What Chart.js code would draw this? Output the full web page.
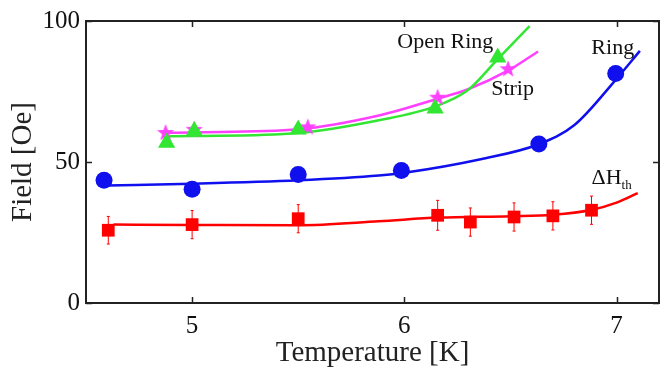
<!DOCTYPE html>
<html><head><meta charset="utf-8">
<script src="https://cdn.jsdelivr.net/npm/chart.js@4"></script>
<style>html,body{margin:0;padding:0;background:#fff}#wrap{width:669px;height:373px}</style>
</head><body><div id="wrap"><canvas id="c" width="669" height="373"></canvas></div>
<script>
// ---- data ----
const xTicks = [5, 6, 7];
const yTicks = [0, 50, 100];

// ΔH_th (red squares with error bars)
const dhT   = [4.605, 5.0, 5.5, 6.157, 6.311, 6.517, 6.70, 6.882];
const dhF   = [25.8, 27.8, 29.9, 31.1, 28.7, 30.5, 30.9, 32.9];
const dhErr = [4.9, 5.0, 5.0, 5.3, 5.0, 5.0, 5.0, 5.0];
const dhFitT = [4.63, 5.0, 5.5, 5.88, 6.16, 6.5, 6.7, 6.88, 7.0, 7.1];
const dhFitF = [27.8, 27.7, 27.6, 29.0, 30.3, 30.8, 31.3, 33.0, 35.6, 39.0];

// Ring (blue circles)
const ringT = [4.585, 5.0, 5.5, 5.986, 6.634, 6.996];
const ringF = [43.5, 40.3, 45.6, 47.0, 56.4, 81.4];
const ringFitT = [4.6, 5.0, 5.5, 5.88, 6.0, 6.36, 6.63, 6.8, 7.0, 7.11];
const ringFitF = [41.7, 42.3, 43.5, 45.2, 46.2, 51.0, 56.2, 63.0, 79.5, 89.4];

// Open Ring (green triangles)
const openT = [4.88, 5.01, 5.5, 6.145, 6.44];
const openF = [56.8, 61.0, 61.5, 69.0, 87.1];
const openFitT = [4.87, 5.0, 5.5, 5.88, 6.15, 6.3, 6.44, 6.59];
const openFitF = [59.1, 59.2, 60.3, 64.8, 69.8, 75.5, 86.5, 98.2];

// Strip (magenta stars)
const stripT = [4.875, 5.01, 5.545, 6.157, 6.489];
const stripF = [60.3, 61.4, 62.3, 72.8, 82.9];
const stripFitT = [4.87, 5.0, 5.5, 5.88, 6.16, 6.3, 6.49, 6.63];
const stripFitF = [60.3, 60.5, 61.6, 66.5, 72.5, 75.8, 82.5, 89.2];

// text labels: [text, x value, baseline y value]
const labelText = ['Open Ring', 'Strip', 'Ring'];
const labelX    = [6.193, 6.51, 6.982];
const labelY    = [90.6, 73.9, 88.2];

// ---- styles ----
const RED = '#ff0000', BLUE = '#1010ee', GREEN = '#33e633', MAG = '#ff40ff';
const SERIF = '"Liberation Serif", "Times New Roman", serif';

const pts = (xs, ys) => xs.map((x, i) => ({x: x, y: ys[i]}));

function starCanvas(r, color) {
  const s = Math.ceil(r * 2 + 2);
  const c = document.createElement('canvas');
  c.width = s; c.height = s;
  const g = c.getContext('2d');
  g.fillStyle = color;
  g.beginPath();
  for (let i = 0; i < 10; i++) {
    const rad = i % 2 ? r * 0.42 : r;
    const a = -Math.PI / 2 + i * Math.PI / 5;
    g.lineTo(s / 2 + rad * Math.cos(a), s / 2 + rad * Math.sin(a));
  }
  g.closePath();
  g.fill();
  return c;
}

const fitDs = (xs, ys, color) => ({
  type: 'scatter', data: pts(xs, ys), showLine: true, borderColor: color,
  borderWidth: 2.5, pointRadius: 0, cubicInterpolationMode: 'monotone', order: 10, fill: false
});
const markDs = (xs, ys, color, style, r) => ({
  type: 'scatter', data: pts(xs, ys), showLine: false, backgroundColor: color,
  borderColor: color, borderWidth: 0, pointStyle: style, pointRadius: r, order: 1
});

const framePlugin = {
  id: 'frame',
  afterDatasetsDraw(chart) {
    const {ctx, chartArea: a, scales: {x, y}} = chart;
    ctx.save();
    // error bars
    ctx.strokeStyle = RED; ctx.lineWidth = 1;
    dhT.forEach((t, i) => {
      const px = x.getPixelForValue(t);
      const y1 = y.getPixelForValue(dhF[i] + dhErr[i]);
      const y2 = y.getPixelForValue(dhF[i] - dhErr[i]);
      ctx.beginPath();
      ctx.moveTo(px, y1); ctx.lineTo(px, y2);
      ctx.moveTo(px - 1.5, y1); ctx.lineTo(px + 1.5, y1);
      ctx.moveTo(px - 1.5, y2); ctx.lineTo(px + 1.5, y2);
      ctx.stroke();
    });
    // box and inward ticks
    ctx.strokeStyle = '#222'; ctx.lineWidth = 2;
    ctx.strokeRect(a.left, a.top, a.right - a.left, a.bottom - a.top);
    ctx.beginPath();
    const L = 6;
    xTicks.forEach(v => {
      const px = Math.round(x.getPixelForValue(v)) + 0.5;
      ctx.moveTo(px, a.bottom); ctx.lineTo(px, a.bottom - L);
      ctx.moveTo(px, a.top); ctx.lineTo(px, a.top + L);
    });
    yTicks.forEach(v => {
      const py = Math.round(y.getPixelForValue(v)) + 0.5;
      ctx.moveTo(a.left, py); ctx.lineTo(a.left + L, py);
      ctx.moveTo(a.right, py); ctx.lineTo(a.right - L, py);
    });
    ctx.lineWidth = 1.5;
    ctx.stroke();
    // text labels
    ctx.fillStyle = '#111';
    ctx.font = '22px ' + SERIF;
    ctx.textAlign = 'center'; ctx.textBaseline = 'alphabetic';
    labelText.forEach((t, i) => {
      ctx.fillText(t, x.getPixelForValue(labelX[i]), y.getPixelForValue(labelY[i]));
    });
    // ΔH_th
    ctx.textAlign = 'left';
    const dx = x.getPixelForValue(6.882), dy = y.getPixelForValue(42.3);
    ctx.fillText('\u0394H', dx, dy);
    const w = ctx.measureText('\u0394H').width;
    ctx.font = '13px ' + SERIF;
    ctx.fillText('th', dx + w, dy + 5);
    ctx.restore();
  }
};

new Chart(document.getElementById('c'), {
  type: 'scatter',
  data: {
    datasets: [
      markDs(dhT, dhF, RED, 'rect', 9),
      markDs(ringT, ringF, BLUE, 'circle', 8.5),
      markDs(openT, openF, GREEN, 'triangle', 10),
      markDs(stripT, stripF, MAG, starCanvas(9, MAG), 9),
      fitDs(dhFitT, dhFitF, RED),
      fitDs(ringFitT, ringFitF, BLUE),
      fitDs(openFitT, openFitF, GREEN),
      fitDs(stripFitT, stripFitF, MAG)
    ]
  },
  options: {
    responsive: false, animation: false, devicePixelRatio: 1,
    layout: {padding: {top: 20, right: 8, left: 0, bottom: 0}},
    plugins: {legend: {display: false}, tooltip: {enabled: false}},
    scales: {
      x: {
        type: 'linear', min: 4.5, max: 7.2,
        afterBuildTicks: s => { s.ticks = xTicks.map(v => ({value: v})); },
        afterFit: s => { s.height = 70; },
        grid: {display: false, drawTicks: false},
        border: {display: false},
        ticks: {color: '#111', font: {family: SERIF, size: 25}, padding: 8, maxRotation: 0},
        title: {display: true, text: 'Temperature [K]', color: '#222', font: {family: SERIF, size: 29}, padding: {top: 0, bottom: 2}}
      },
      y: {
        type: 'linear', min: 0, max: 100,
        afterBuildTicks: s => { s.ticks = yTicks.map(v => ({value: v})); },
        afterFit: s => { s.width = 86; },
        grid: {display: false, drawTicks: false},
        border: {display: false},
        ticks: {color: '#111', font: {family: SERIF, size: 25}, padding: 6},
        title: {display: true, text: 'Field [Oe]', color: '#222', font: {family: SERIF, size: 29}, padding: {top: 6, bottom: 0}}
      }
    }
  },
  plugins: [framePlugin]
});
</script>
</body></html>
